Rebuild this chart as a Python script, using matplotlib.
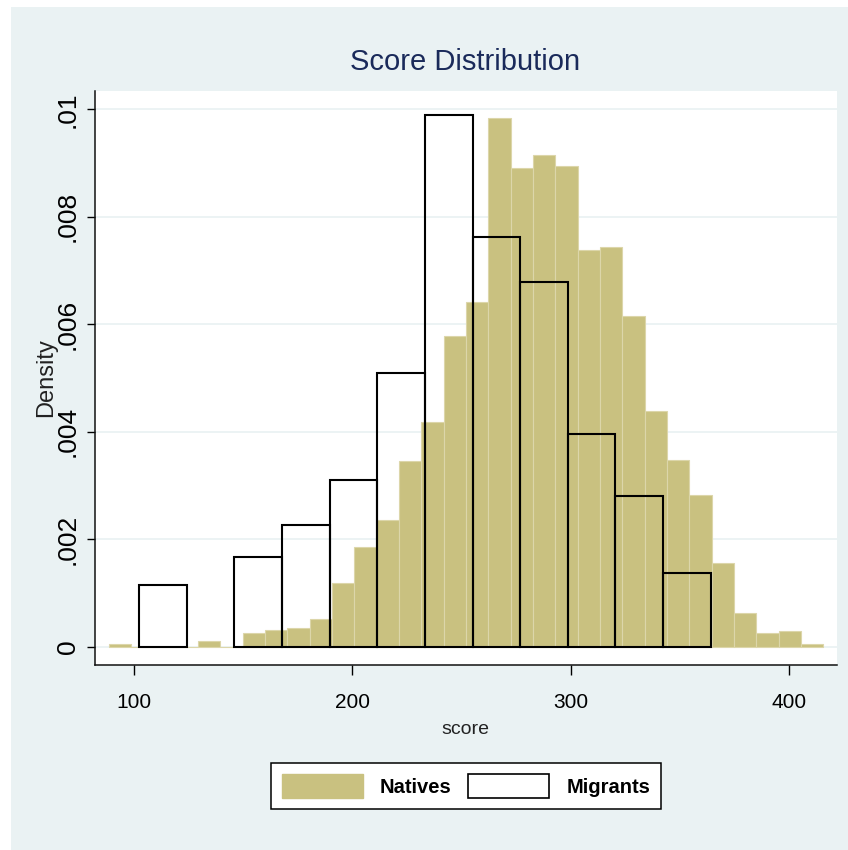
import matplotlib
matplotlib.use("Agg")
import matplotlib.pyplot as plt
import numpy as np
from matplotlib.patches import Patch, Rectangle

# natives: 32 bins starting at 88.5, width 10.22
natives_start = 88.5
natives_width = 10.22
natives_density = [0.00005, 0, 0, 0, 0.0001, 0, 0.00026, 0.00031, 0.00034, 0.00052,
                   0.00118, 0.00186, 0.00236, 0.00346, 0.00418, 0.00578, 0.00641, 0.00983,
                   0.0089, 0.00915, 0.00895, 0.00738, 0.00743, 0.00616, 0.00438, 0.00348,
                   0.00282, 0.00156, 0.00063, 0.00025, 0.0003, 0.00005]

# migrants: 12 bins starting at 102.4, width 21.8
migrants_start = 102.4
migrants_width = 21.8
migrants_density = [0.00114, 0, 0.00167, 0.00226, 0.00311, 0.00509, 0.0099,
                    0.00762, 0.00678, 0.00396, 0.00281, 0.00138]

xticks = [100, 200, 300, 400]
yticks = [0, 0.002, 0.004, 0.006, 0.008, 0.01]
ytick_labels = ["0", ".002", ".004", ".006", ".008", ".01"]

BG = "#EAF2F3"
KHAKI = "#C9C180"
FONT = ["Liberation Sans", "DejaVu Sans"]
plt.rcParams["font.family"] = FONT

fig = plt.figure(figsize=(8.48, 8.5), dpi=100)
fig.patch.set_facecolor("white")
fig.add_artist(Rectangle((11 / 848, 0), 1, 1 - 7 / 850, transform=fig.transFigure,
                         facecolor=BG, edgecolor="none", zorder=-10))

ax = fig.add_axes([95 / 848, 1 - 665 / 850, (836.7 - 95) / 848, (665 - 91) / 850])
ax.set_facecolor("white")

n_edges = natives_start + natives_width * np.arange(len(natives_density))
ax.bar(n_edges, natives_density, width=natives_width, align="edge",
       color=KHAKI, edgecolor="#DCD6AA", linewidth=0.8, zorder=2)

m_edges = migrants_start + migrants_width * np.arange(len(migrants_density))
m_mask = np.array(migrants_density) > 0
ax.bar(m_edges[m_mask], np.array(migrants_density)[m_mask], width=migrants_width,
       align="edge", fill=False, edgecolor="black", linewidth=1.5, zorder=3)

ax.set_xlim(82.2, 421.7)
ax.set_ylim(-0.00034, 0.01034)

for y in yticks:
    ax.axhline(y, color=BG, linewidth=1.3, zorder=1)

for s in ["top", "right"]:
    ax.spines[s].set_visible(False)
for s in ["left", "bottom"]:
    ax.spines[s].set_linewidth(1.1)
    ax.spines[s].set_color("#111111")

ax.set_xticks(xticks)
ax.set_xticklabels([str(t) for t in xticks], fontsize=15)
ax.set_yticks(yticks)
ax.set_yticklabels(ytick_labels, fontsize=19, rotation=90, va="center")
ax.tick_params(axis="x", length=7.5, width=1.0, pad=13)
ax.tick_params(axis="y", length=6, width=1.0, pad=5)

ax.set_xlabel("score", fontsize=14, labelpad=6, color="#222222")
ax.set_ylabel("Density", fontsize=17, labelpad=-1, color="#222222")

fig.text(465 / 848, 1 - 62 / 850, "Score Distribution", fontsize=21,
         color="#1A2A5A", ha="center", va="center")

handles = [Patch(facecolor=KHAKI, edgecolor=KHAKI, label="Natives"),
           Patch(facecolor="white", edgecolor="black", linewidth=1.2, label="Migrants")]
leg = fig.legend(handles=handles, loc="center", bbox_to_anchor=(466 / 848, 1 - 786 / 850),
                 ncol=2, frameon=True, fancybox=False, handlelength=4.0, handleheight=1.5,
                 handletextpad=0.85, columnspacing=0.85, borderpad=0.55,
                 prop={"weight": "bold", "size": 14.5})
leg.get_frame().set_edgecolor("black")
leg.get_frame().set_linewidth(1.1)
leg.get_frame().set_alpha(1)

fig.savefig("out.png", dpi=100, facecolor=fig.get_facecolor())
